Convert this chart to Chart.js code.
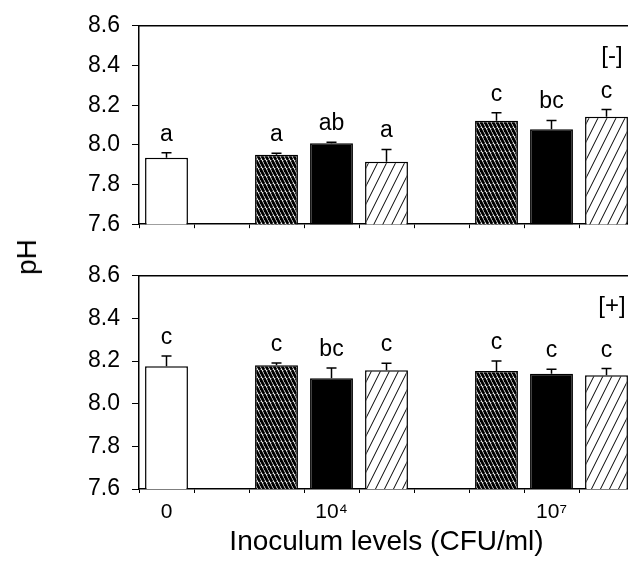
<!DOCTYPE html>
<html>
<head>
<meta charset="utf-8">
<script src="https://cdn.jsdelivr.net/npm/chart.js@4.4.1/dist/chart.umd.min.js"></script>
<style>
  html, body { margin: 0; padding: 0; background: #fff; overflow: hidden; }
  #wrap { position: relative; width: 628px; height: 564px; overflow: hidden; }
  .panel { position: absolute; left: 0; }
  #ylabel {
    position: absolute; left: 27px; top: 257px;
    transform: translate(-50%, -50%) rotate(-90deg);
    font: 28px 'Liberation Sans', Arial, sans-serif; color: #000;
  }
</style>
</head>
<body>
<div id="wrap">
  <div class="panel" style="top:0"><canvas id="chartMinus" width="640" height="250"></canvas></div>
  <div class="panel" style="top:250px"><canvas id="chartPlus" width="640" height="314"></canvas></div>
  <div id="ylabel">pH</div>
</div>
<script>
const FONT = "'Liberation Sans', Arial, sans-serif";

const categories = ['0', '10⁴', '10⁷'];
const yTicks = [7.6, 7.8, 8.0, 8.2, 8.4, 8.6];
const xTitle = 'Inoculum levels (CFU/ml)';

// [-] panel
const minusControl = [7.935, null, null];
const minusControlErr = [0.025, null, null];
const minusControlLetters = ['a', null, null];
const minusT1 = [null, 7.950, 8.122];
const minusT1Err = [null, 0.007, 0.040];
const minusT1Letters = [null, 'a', 'c'];
const minusT2 = [null, 8.008, 8.078];
const minusT2Err = [null, 0.005, 0.045];
const minusT2Letters = [null, 'ab', 'bc'];
const minusT3 = [null, 7.915, 8.141];
const minusT3Err = [null, 0.062, 0.037];
const minusT3Letters = [null, 'a', 'c'];

// [+] panel
const plusControl = [8.176, null, null];
const plusControlErr = [0.048, null, null];
const plusControlLetters = ['c', null, null];
const plusT1 = [null, 8.181, 8.153];
const plusT1Err = [null, 0.010, 0.047];
const plusT1Letters = [null, 'c', 'c'];
const plusT2 = [null, 8.120, 8.140];
const plusT2Err = [null, 0.048, 0.022];
const plusT2Letters = [null, 'bc', 'c'];
const plusT3 = [null, 8.157, 8.134];
const plusT3Err = [null, 0.033, 0.031];
const plusT3Letters = [null, 'c', 'c'];

// 9 bar slots: control alone at slot 0, then two groups of three with a gap before each
const SLOTS = 9;
const slotOf = (cat, s) => cat === 0 ? 0 : 4 * cat - 3 + s;
const slotLabels = Array(SLOTS).fill('');
categories.forEach((c, i) => { slotLabels[i === 0 ? 0 : 4 * i - 1] = c; });

function toSlots(arr, s) {
  const out = Array(SLOTS).fill(null);
  arr.forEach((v, i) => { if (v != null) out[slotOf(i, s)] = v; });
  return out;
}

function hatch(w, h, lw, back) {
  const c = document.createElement('canvas');
  c.width = w; c.height = h;
  const g = c.getContext('2d');
  g.fillStyle = '#fff';
  g.fillRect(0, 0, w, h);
  g.strokeStyle = '#000';
  g.lineWidth = lw;
  for (const x0 of [-w, 0, w]) {
    g.beginPath();
    if (back) { g.moveTo(x0, 0); g.lineTo(x0 + w, h); }
    else { g.moveTo(x0, h); g.lineTo(x0 + w, 0); }
    g.stroke();
  }
  return g.createPattern(c, 'repeat');
}
const denseFill = hatch(4, 8, 2.8, true);
const lightFill = hatch(9, 18, 1, false);
const fills = ['#fff', denseFill, '#000', lightFill];

const annot = {
  id: 'annot',
  afterDatasetsDraw(chart, args, opts) {
    const ctx = chart.ctx, y = chart.scales.y, area = chart.chartArea;
    ctx.save();
    ctx.strokeStyle = '#000';
    ctx.lineWidth = 1.5;
    ctx.beginPath();
    ctx.moveTo(area.left, area.top);
    ctx.lineTo(area.right, area.top);
    ctx.stroke();

    ctx.fillStyle = '#000';
    ctx.font = '23px ' + FONT;
    ctx.textAlign = 'center';
    ctx.textBaseline = 'alphabetic';
    chart.data.datasets.forEach((ds, di) => {
      const meta = chart.getDatasetMeta(di);
      ds.data.forEach((v, i) => {
        if (v == null) return;
        const bar = meta.data[i];
        const top = y.getPixelForValue(v + ds.errors[i]);
        ctx.lineWidth = 1.5;
        ctx.beginPath();
        ctx.moveTo(bar.x, bar.y);
        ctx.lineTo(bar.x, top);
        ctx.moveTo(bar.x - 5, top);
        ctx.lineTo(bar.x + 5, top);
        ctx.stroke();
        if (ds.letters[i]) ctx.fillText(ds.letters[i], bar.x, top - 12);
      });
    });

    ctx.font = '24px ' + FONT;
    ctx.textBaseline = 'middle';
    ctx.fillText(opts.tag, 612, area.top + 31);
    ctx.restore();
  }
};

function makePanel(id, series, tag, showX, padTop, xHeight) {
  const datasets = series.map((s, k) => ({
    data: toSlots(s.values, k),
    errors: toSlots(s.errs, k),
    letters: toSlots(s.letters, k),
    backgroundColor: fills[k],
    borderColor: '#000',
    borderWidth: 1.5,
    grouped: false,
    barPercentage: 0.78,
    categoryPercentage: 1
  }));

  return new Chart(document.getElementById(id), {
    type: 'bar',
    data: { labels: slotLabels, datasets },
    options: {
      responsive: false,
      animation: false,
      layout: { padding: { top: padTop, left: 0, right: 6, bottom: 0 } },
      plugins: { legend: { display: false }, tooltip: { enabled: false }, annot: { tag } },
      scales: {
        x: {
          offset: true,
          grid: { drawOnChartArea: false, drawTicks: true, tickLength: 4, color: '#000', lineWidth: 1 },
          border: { color: '#000', width: 1.5 },
          ticks: {
            display: showX, autoSkip: false, maxRotation: 0, padding: 7,
            color: '#000', font: { size: 21, family: FONT }
          },
          title: {
            display: showX, text: xTitle, color: '#000',
            font: { size: 28, family: FONT }, padding: { top: 0, bottom: 5 }
          },
          afterFit: s => { s.height = xHeight; }
        },
        y: {
          min: 7.6, max: 8.6,
          afterBuildTicks: s => { s.ticks = yTicks.map(v => ({ value: v })); },
          ticks: {
            callback: v => v.toFixed(1), padding: 12,
            color: '#000', font: { size: 23, family: FONT }
          },
          grid: { drawOnChartArea: false, tickLength: 7, color: '#000', lineWidth: 1 },
          border: { color: '#000', width: 1.5 },
          afterFit: s => { s.width = 139; }
        }
      }
    },
    plugins: [annot]
  });
}

makePanel('chartMinus', [
  { values: minusControl, errs: minusControlErr, letters: minusControlLetters },
  { values: minusT1, errs: minusT1Err, letters: minusT1Letters },
  { values: minusT2, errs: minusT2Err, letters: minusT2Letters },
  { values: minusT3, errs: minusT3Err, letters: minusT3Letters }
], '[-]', false, 18, 17);

makePanel('chartPlus', [
  { values: plusControl, errs: plusControlErr, letters: plusControlLetters },
  { values: plusT1, errs: plusT1Err, letters: plusT1Letters },
  { values: plusT2, errs: plusT2Err, letters: plusT2Letters },
  { values: plusT3, errs: plusT3Err, letters: plusT3Letters }
], '[+]', true, 25, 75);
</script>
</body>
</html>
